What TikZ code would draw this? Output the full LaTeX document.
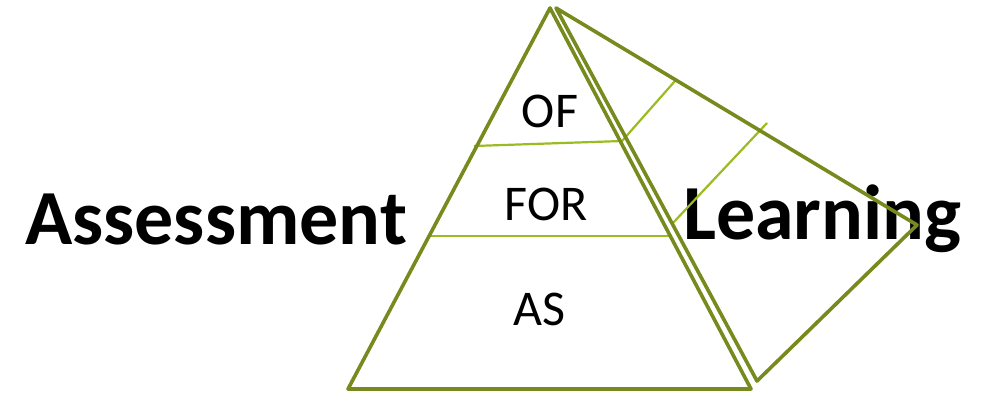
\documentclass[tikz,border=0pt]{standalone}
\usepackage{fontspec}
\setmainfont{Carlito}
\definecolor{olive}{RGB}{118,138,30}
\definecolor{lightg}{RGB}{155,187,35}
\begin{document}
\begin{tikzpicture}[x=1pt,y=-1pt,
  edge/.style={draw=olive,line width=3.6pt,line join=round},
  band/.style={draw=lightg,line width=2.2pt},
  label/.style={font=\fontsize{50}{50}\selectfont,inner sep=0pt,anchor=base},
  title/.style={font=\fontsize{78}{78}\selectfont\bfseries,inner sep=0pt,anchor=base west}]
\useasboundingbox (0,0) rectangle (981,393);
% text
\node[title] (assess) at (25,244) {Assessment};
\node[title] (learn) at (683,239) {Learning};
\node[label] (of) at (550,128) {OF};
\node[label] (for) at (546,220) {FOR};
\node[label] (as) at (539,325) {AS};
% coordinates
\coordinate (apex) at (550,8);
\coordinate (bl) at (348,389);
\coordinate (br) at (751,389);
\coordinate (apex2) at (556,8);
\coordinate (back) at (917,225);
\coordinate (br2) at (757,381);
\coordinate (ofl) at (474,146);
\coordinate (ofr) at (622,141);
\coordinate (oft) at (675,81);
\coordinate (forl) at (429,236);
\coordinate (forr) at (671,236);
\coordinate (forb) at (672,224);
\coordinate (fort) at (767,123);
% bands
\draw[band] (ofl) -- (ofr) -- (oft);
\draw[band] (forl) -- (forr);
\draw[band] (forb) -- (fort);
% pyramid
\draw[edge] (apex) -- (bl) -- (br) -- cycle;
\draw[edge] (br2) -- (apex2) -- (back) -- cycle;
\end{tikzpicture}
\end{document}
